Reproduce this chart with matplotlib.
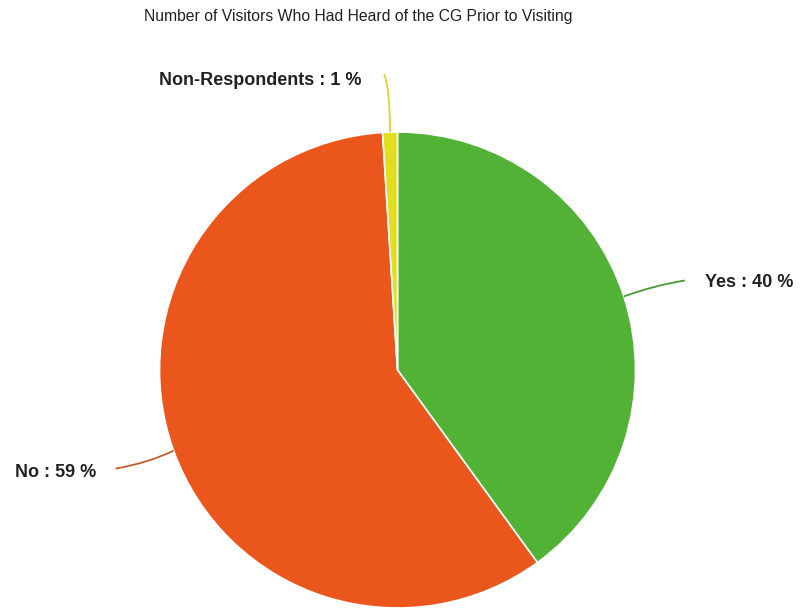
import numpy as np
import matplotlib.pyplot as plt
from matplotlib.path import Path
from matplotlib.patches import PathPatch

plt.rcParams['font.family'] = ['Liberation Sans', 'DejaVu Sans']

labels = ['Yes', 'No', 'Non-Respondents']
shares = [40, 59, 1]
colors = ['#52b235', '#eb561c', '#e2de1f']
line_colors = ['#4a9a35', '#c0602e', '#d8d430']

W, H = 800, 608
fig = plt.figure(figsize=(W / 100, H / 100), dpi=100)
ax = fig.add_axes([0, 0, 1, 1])

cx, cy, r = 397.5, H - 370, 238
wedges, _ = ax.pie(shares, colors=colors, startangle=90, counterclock=False,
                   center=(cx, cy), radius=r, frame=True,
                   wedgeprops=dict(edgecolor='white', linewidth=1.2))
ax.set_xlim(0, W)
ax.set_ylim(0, H)
ax.set_aspect('equal')
ax.axis('off')

# leader line control point and end point offsets (pixels, y up), label anchor
leaders = [
    ((30, 11), (61, 16), (81, 14), 'left'),
    ((-24, -12), (-58, -18), (-77, -22), 'right'),
    ((0, 45), (-6, 58), (-29, 52), 'right'),
]

for w, lab, val, lc, (ctrl, end, txt, ha) in zip(wedges, labels, shares, line_colors, leaders):
    mid = np.deg2rad((w.theta1 + w.theta2) / 2)
    x0, y0 = cx + r * np.cos(mid), cy + r * np.sin(mid)
    verts = [(x0, y0), (x0 + ctrl[0], y0 + ctrl[1]), (x0 + end[0], y0 + end[1])]
    path = Path(verts, [Path.MOVETO, Path.CURVE3, Path.CURVE3])
    ax.add_patch(PathPatch(path, fc='none', ec=lc, lw=1.3))
    ax.text(x0 + txt[0], y0 + txt[1], f'{lab} : {val} %', ha=ha, va='center',
            fontsize=13, fontweight='bold', color='#222222')

fig.text(358 / W, 1 - 17 / H, 'Number of Visitors Who Had Heard of the CG Prior to Visiting',
         ha='center', va='center', fontsize=11.3, color='#222222')

fig.savefig('out.png', dpi=100, facecolor='white')
